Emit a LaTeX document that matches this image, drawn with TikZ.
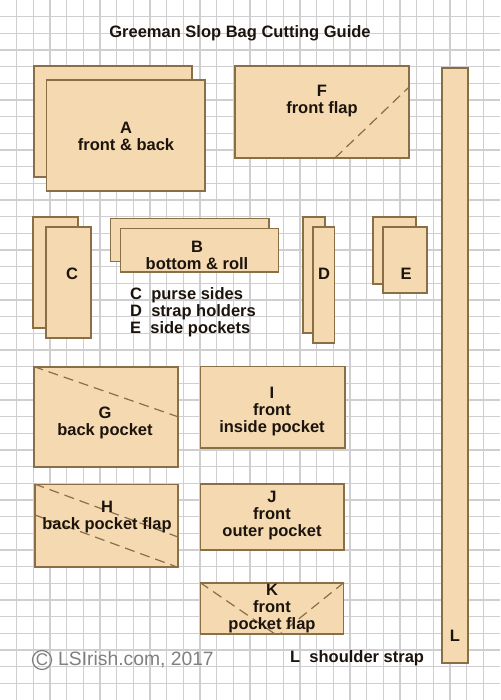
\documentclass[tikz,border=0pt]{standalone}
\usepackage{xcolor}
\usepackage{fontspec}
\setmainfont{Liberation Sans}
\usetikzlibrary{positioning}
\definecolor{Tan}{HTML}{F4D9B1}
\definecolor{Edge}{HTML}{8A6E45}
\definecolor{Ink}{HTML}{1C140C}
\definecolor{Rule}{HTML}{CFCFD2}
\definecolor{Stamp}{HTML}{808080}

\begin{document}
\begin{tikzpicture}[x=1pt,y=-1pt,
    piece/.style={draw=Edge,fill=Tan,line width=1.1pt,inner sep=0pt},
    fold/.style={draw=Edge,line width=1.2pt,dash pattern=on 10pt off 6pt},
    lbl/.style={align=center,inner sep=0pt,text=Ink,font=\fontsize{16.5}{17}\selectfont\bfseries},
    note/.style={align=left,anchor=west,inner sep=0pt,text=Ink,font=\fontsize{16.5}{17}\selectfont\bfseries},
    stamp/.style={inner sep=0pt,text=Stamp,font=\fontsize{19.3}{20}\selectfont}]
    \useasboundingbox (0,0) rectangle (500,700);
    \fill[white] (0,0) rectangle (500,700);
    % graph paper
    \foreach \k in {1,...,29} \draw[Rule,line width=1.3pt] (\k*16.67,0)--(\k*16.67,700);
    \foreach \k in {1,...,41} \draw[Rule,line width=1.3pt] (0,\k*16.67)--(500,\k*16.67);
    % pieces, back copy first
    \node[piece,minimum width=158pt,minimum height=111pt] (aback) at (113,121.5) {};
    \node[piece,minimum width=158.5pt,minimum height=111pt] (afront) at (125.75,135.5) {};
    \node[piece,minimum width=174pt,minimum height=92pt] (f) at (322,112) {};
    \node[piece,minimum width=26pt,minimum height=595pt] (l) at (455,365.5) {};
    \node[piece,minimum width=45pt,minimum height=111pt] (cback) at (55.5,272.5) {};
    \node[piece,minimum width=45pt,minimum height=111pt] (cfront) at (68.5,282.5) {};
    \node[piece,minimum width=158.5pt,minimum height=43pt] (bback) at (189.75,240) {};
    \node[piece,minimum width=158pt,minimum height=43.5pt] (bfront) at (199.5,250.25) {};
    \node[piece,minimum width=22pt,minimum height=116pt] (dback) at (314,275) {};
    \node[piece,minimum width=21.5pt,minimum height=116pt] (dfront) at (323.75,285) {};
    \node[piece,minimum width=43pt,minimum height=67pt] (eback) at (394.5,250.5) {};
    \node[piece,minimum width=44pt,minimum height=66pt] (efront) at (405,260) {};
    \node[piece,minimum width=144pt,minimum height=100pt] (g) at (106,417) {};
    \node[piece,minimum width=144.5pt,minimum height=81.5pt] (i) at (272.75,407.25) {};
    \node[piece,minimum width=143pt,minimum height=82.5pt] (h) at (106.5,525.75) {};
    \node[piece,minimum width=143.5pt,minimum height=66pt] (j) at (272.25,517) {};
    \node[piece,minimum width=143pt,minimum height=51pt] (k) at (272,608.5) {};
    % fold lines
    \draw[fold] (335,158)--(408,88);
    \draw[fold] (g.north west)--(g.east);
    \draw[fold] (h.north west)--(178,537);
    \draw[fold] (35,515)--(h.south east);
    \draw[fold] (k.north west)--(275,634);
    \draw[fold] (k.north east)--(280,634);
    % labels
    \node[lbl] (title) at (240,33.5) {Greeman Slop Bag Cutting Guide};
    \node[lbl] (atext) at (126,136) {A\\front \& back};
    \node[lbl] (ftext) at (322,101.5) {F\\front flap};
    \node[lbl] (btext) at (197,255) {B\\bottom \& roll};
    \node[lbl] (ctext) at (72,274) {C};
    \node[lbl] (dtext) at (324,274) {D};
    \node[lbl] (etext) at (406,274) {E};
    \node[lbl] (gtext) at (105,423) {G\\back pocket};
    \node[lbl] (itext) at (272,411.5) {I\\front\\inside pocket};
    \node[lbl] (htext) at (107,517) {H\\back pocket flap};
    \node[lbl] (jtext) at (272,515.5) {J\\front\\outer pocket};
    \node[lbl] (ktext) at (272,608.5) {K\\front\\pocket flap};
    \node[lbl] (ltext) at (455,636) {L};
    \node[note] (list) at (130,312) {C\ \ purse sides\\D\ \ strap holders\\E\ \ side pockets};
    \node[note] (strap) at (290,658) {L\ \ shoulder strap};
    % copyright mark
    \node[circle,draw=Stamp,line width=1.2pt,minimum size=19pt,inner sep=0pt,stamp,font=\fontsize{17}{17}\selectfont] (mark) at (42,660) {C};
    \node[stamp,anchor=west] (site) at (58,660) {LSIrish.com, 2017};
\end{tikzpicture}
\end{document}
